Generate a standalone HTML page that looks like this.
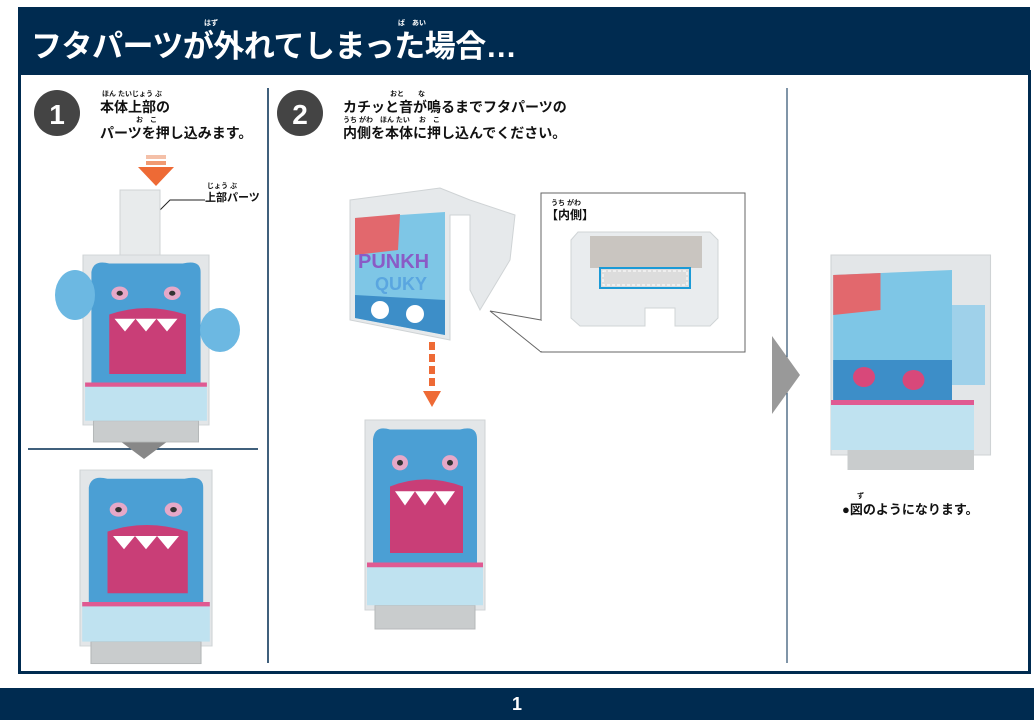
<!DOCTYPE html>
<html><head><meta charset="utf-8"><style>
body{margin:0;width:1034px;height:720px;background:#fff;position:relative;overflow:hidden;font-family:"Liberation Sans","Noto Sans CJK JP",sans-serif;}
.hdr{position:absolute;left:18px;top:7px;width:1012px;height:68px;background:#002b50;}
.frame{position:absolute;left:18px;top:70px;width:1007px;height:601px;border:3px solid #002b50;border-top:none;}
.foot{position:absolute;left:0;top:688px;width:1034px;height:32px;background:#002b50;color:#fff;font-weight:bold;font-size:18px;text-align:center;line-height:32px;}
.t{position:absolute;font-weight:bold;color:#111;white-space:nowrap;line-height:1.1;}
.r{position:absolute;font-size:7px;font-weight:bold;color:#111;white-space:nowrap;line-height:1;}
</style></head><body>
<div class="hdr"></div>
<div class="t" style="left:31px;top:31px;font-size:31px;color:#fff;letter-spacing:-0.5px;line-height:1">フタパーツが外れてしまった場合…</div>
<div class="r" style="left:204px;top:20px;color:#fff">はず</div>
<div class="r" style="left:398px;top:20px;color:#fff">ば　あい</div>
<div class="frame"></div>
<div class="foot">1</div>

<svg style="position:absolute;left:0;top:0" width="1034" height="720">
<line x1="268" y1="88" x2="268" y2="663" stroke="#002b50" stroke-width="1.5"/>
<line x1="787" y1="88" x2="787" y2="663" stroke="#002b50" stroke-width="1"/>
<line x1="28" y1="449" x2="258" y2="449" stroke="#002b50" stroke-width="1.5"/>
<circle cx="57" cy="113" r="23" fill="#444"/>
<text x="57" y="124" font-size="28" font-weight="bold" fill="#fff" text-anchor="middle" font-family="Liberation Sans">1</text>
<circle cx="300" cy="113" r="23" fill="#444"/>
<text x="300" y="124" font-size="28" font-weight="bold" fill="#fff" text-anchor="middle" font-family="Liberation Sans">2</text>
<rect x="146" y="155" width="20" height="4" fill="#f4c0a8"/><rect x="146" y="161" width="20" height="4" fill="#f19a72"/>
<polygon points="138,167 174,167 156,186" fill="#ee6a35"/>
<polygon points="116,438 172,438 144,459" fill="#888"/>
<polygon points="772,336 800,375 772,414" fill="#999"/>
<g fill="#ee6a35"><rect x="429" y="342" width="6" height="8"/><rect x="429" y="354" width="6" height="8"/><rect x="429" y="366" width="6" height="8"/><rect x="429" y="378" width="6" height="8"/></g>
<polygon points="423,391 441,391 432,407" fill="#ee6a35"/>
<polyline points="148,222 170,200 205,200" fill="none" stroke="#222" stroke-width="1"/>
<rect x="541" y="193" width="204" height="159" fill="#fff" stroke="#666" stroke-width="1"/>
<polyline points="541,320 490,311 541,352" fill="#fff" stroke="#666"/>
<line x1="541" y1="321" x2="541" y2="351" stroke="#fff" stroke-width="2"/>
<path d="M578,232 L710,232 L718,240 L718,318 L710,326 L675,326 L675,308 L645,308 L645,326 L580,326 L571,318 L571,240 Z" fill="#e9ecee" stroke="#d0d4d6"/>
<rect x="590" y="236" width="112" height="32" fill="#c9c5c0"/>
<rect x="600" y="268" width="90" height="20" fill="#dcdcdc" stroke="#1b9ad6" stroke-width="2"/>
<rect x="603" y="271" width="84" height="14" fill="none" stroke="#fff" stroke-width="1" stroke-dasharray="3,2"/>

<defs>
<g id="prod">
 <rect x="20" y="0" width="120" height="200" fill="#e3e6e8" stroke="#cfd3d5"/>
 <rect x="30" y="195" width="100" height="25" fill="#c9cccd" stroke="#b5b8b9"/>
 <rect x="22" y="150" width="116" height="45" fill="#bfe2f0"/>
 <rect x="22" y="150" width="116" height="5" fill="#e05a92"/>
 <path d="M28,20 Q30,5 45,10 L115,10 Q132,5 132,20 L132,150 L28,150 Z" fill="#4b9fd4"/>
 <path d="M45,70 Q80,55 118,70 L118,140 L45,140 Z" fill="#c93e77"/>
 <path d="M50,75 L60,90 L70,75 L80,90 L90,75 L100,90 L110,75 Z" fill="#fff"/>
 <circle cx="55" cy="45" r="8" fill="#e6a8c8"/><circle cx="105" cy="45" r="8" fill="#e6a8c8"/>
 <circle cx="55" cy="45" r="3" fill="#333"/><circle cx="105" cy="45" r="3" fill="#333"/>
</g>
</defs>
<g transform="translate(60,190)"><rect x="60" y="0" width="40" height="80" fill="#e8ebec" stroke="#cfd3d5"/></g>
<g transform="translate(62,255) scale(1.05,0.85)"><use href="#prod"/></g>
<ellipse cx="75" cy="295" rx="20" ry="25" fill="#6cb8e2"/><ellipse cx="220" cy="330" rx="20" ry="22" fill="#6cb8e2"/>
<g transform="translate(58,470) scale(1.1,0.88)"><use href="#prod"/></g>
<g transform="translate(345,420) scale(1.0,0.95)"><use href="#prod"/></g>
<path d="M350,200 L440,188 L470,200 L515,215 L510,260 L480,310 L470,290 L470,215 L450,215 L450,340 L350,320 Z" fill="#e6e9eb" stroke="#cfd3d5"/>
<path d="M355,218 L445,212 L445,335 L355,318 Z" fill="#7ec6e6"/>
<path d="M355,218 L400,214 L398,250 L355,255 Z" fill="#e2686d"/>
<text x="358" y="268" font-size="20" font-weight="bold" fill="#8a5bc6" font-family="Liberation Sans">PUNKH</text>
<text x="375" y="290" font-size="18" font-weight="bold" fill="#5aa6e0" font-family="Liberation Sans">QUKY</text>
<path d="M355,295 L445,300 L445,335 L355,318 Z" fill="#3d8ec8"/>
<circle cx="380" cy="310" r="9" fill="#fff"/><circle cx="415" cy="314" r="9" fill="#fff"/>
<g transform="translate(820,255) scale(1.1,1.0)">
 <rect x="10" y="0" width="145" height="200" fill="#e3e6e8" stroke="#cfd3d5"/>
 <rect x="25" y="195" width="115" height="20" fill="#c9cccd"/>
 <rect x="10" y="150" width="130" height="45" fill="#bfe2f0"/>
 <rect x="10" y="145" width="130" height="5" fill="#e05a92"/>
 <path d="M12,20 L120,15 L120,145 L12,145 Z" fill="#7ec6e6"/>
 <path d="M12,20 L55,18 L55,55 L12,60 Z" fill="#e2686d"/>
 <path d="M12,105 L120,105 L120,145 L12,145 Z" fill="#3d8ec8"/>
 <circle cx="40" cy="122" r="10" fill="#d8487a"/><circle cx="85" cy="125" r="10" fill="#d8487a"/>
 <rect x="120" y="50" width="30" height="80" fill="#9fd1ea"/>
</g>
</svg>

<div class="r" style="left:102px;top:91px">ほん たいじょう ぶ</div>
<div class="t" style="left:100px;top:100px;font-size:14px">本体上部の</div>
<div class="r" style="left:136px;top:117px">お　こ</div>
<div class="t" style="left:100px;top:126px;font-size:14px">パーツを押し込みます。</div>
<div class="r" style="left:207px;top:183px">じょう ぶ</div>
<div class="t" style="left:205px;top:192px;font-size:11px">上部パーツ</div>
<div class="r" style="left:390px;top:91px">おと　　な</div>
<div class="t" style="left:343px;top:100px;font-size:14px">カチッと音が鳴るまでフタパーツの</div>
<div class="r" style="left:343px;top:117px">うち がわ　ほん たい　 お　こ</div>
<div class="t" style="left:343px;top:126px;font-size:14px">内側を本体に押し込んでください。</div>
<div class="r" style="left:551px;top:200px">うち がわ</div>
<div class="t" style="left:546px;top:209px;font-size:12px">【内側】</div>
<div class="r" style="left:857px;top:493px">ず</div>
<div class="t" style="left:842px;top:503px;font-size:13px">●図のようになります。</div>
</body></html>
